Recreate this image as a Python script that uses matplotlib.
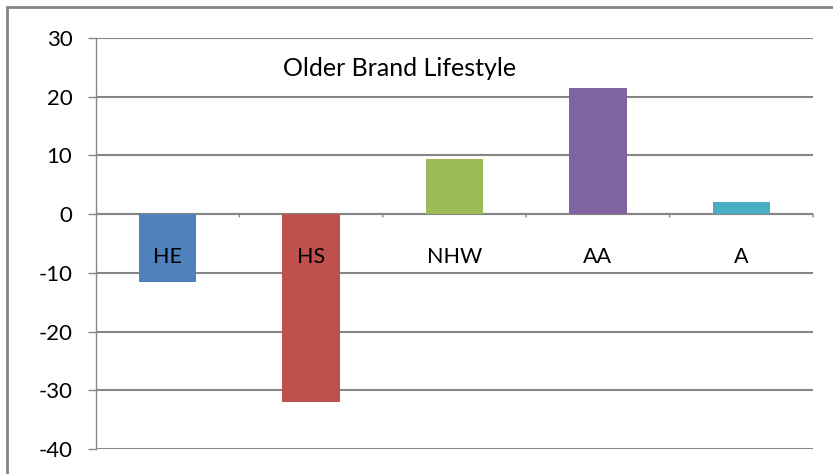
import matplotlib.pyplot as plt
import numpy as np
from matplotlib.patches import Rectangle

#************  DATA  ************#
categories = ['HE', 'HS', 'NHW', 'AA', 'A']
values = [-11.5, -32.0, 9.4, 21.5, 2.0]
colors = ['#4f81bd', '#c0504d', '#9bbb59', '#8064a2', '#4bacc6']
yticks = [30, 20, 10, 0, -10, -20, -30, -40]

plt.rcParams['font.family'] = ['Lato', 'DejaVu Sans']

#************  FIGURE  ************#
W, H = 833, 474
fig = plt.figure(figsize=(W/100, H/100), dpi=100)
ax = fig.add_axes([96/W, 1-449/H, (813-96)/W, (449-38)/H])

x = np.arange(len(categories))
ax.bar(x, values, width=0.4, color=colors, zorder=3)

ax.set_xlim(-0.5, len(categories)-0.5)
ax.set_ylim(-40, 30)
ax.set_yticks(yticks)
ax.set_yticklabels([str(t) for t in yticks], fontsize=16)
ax.grid(axis='y', color='#868686', linewidth=1.5, zorder=1)
ax.tick_params(axis='y', length=6, width=1, color='#868686', pad=11)
ax.set_xticks([])

for s in ['top', 'right', 'bottom']:
    ax.spines[s].set_visible(False)
ax.spines['left'].set_color('#868686')
ax.spines['left'].set_linewidth(1)

# zero axis with category-boundary ticks
ax.axhline(0, color='#868686', linewidth=1.5, zorder=2)
for b in np.arange(0.5, len(categories), 1.0):
    ax.annotate('', xy=(b, 0), xytext=(0, -4), textcoords='offset points',
                arrowprops=dict(arrowstyle='-', color='#868686', lw=1))

# category labels below zero line
for i, c in enumerate(categories):
    ax.annotate(c, xy=(i, 0), xytext=(0, -31), textcoords='offset points',
                ha='center', va='center', fontsize=15.5, zorder=4)

fig.text(400/W, 1-68/H, 'Older Brand Lifestyle', ha='center', va='center', fontsize=18)

# outer chart border (only left and top visible)
fig.patches.append(Rectangle((7/W, -0.1), 1.2, 1-7/H+0.1, transform=fig.transFigure,
                             fill=False, edgecolor='#868686', linewidth=2))

fig.savefig('out.png', dpi=100)
